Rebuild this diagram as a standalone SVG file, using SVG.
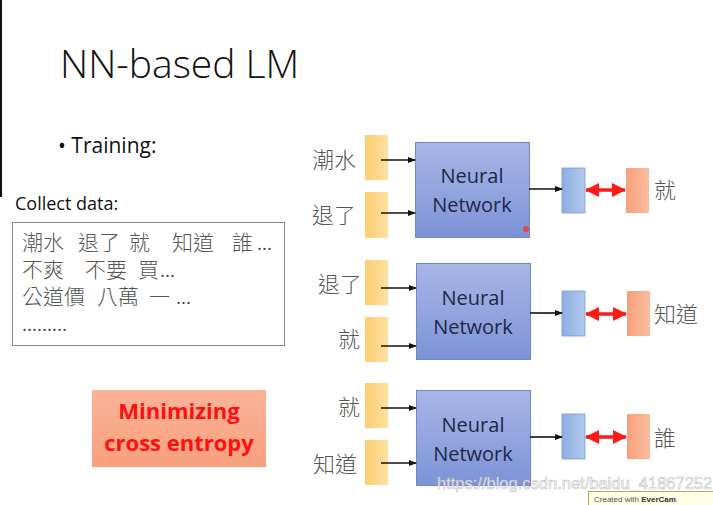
<svg xmlns="http://www.w3.org/2000/svg" width="713" height="505" viewBox="0 0 713 505">
<defs>
<linearGradient id="gY" x1="0" y1="0" x2="1" y2="0"><stop offset="0" stop-color="#fdcd72"/><stop offset="1" stop-color="#fee0a0"/></linearGradient>
<linearGradient id="gNN" x1="0" y1="0" x2="0" y2="1"><stop offset="0" stop-color="#a7b6e6"/><stop offset="1" stop-color="#7d93d6"/></linearGradient>
<linearGradient id="gB" x1="0" y1="0" x2="1" y2="0"><stop offset="0" stop-color="#8eaee0"/><stop offset="1" stop-color="#b0c8ee"/></linearGradient>
<linearGradient id="gO" x1="0" y1="0" x2="1" y2="0"><stop offset="0" stop-color="#f7a07c"/><stop offset="1" stop-color="#fbbd9f"/></linearGradient>
<linearGradient id="gM" x1="0" y1="0" x2="0" y2="1"><stop offset="0" stop-color="#fbb398"/><stop offset="1" stop-color="#f8a07e"/></linearGradient>
<marker id="ab" markerWidth="8" markerHeight="8" refX="7" refY="4" orient="auto" markerUnits="userSpaceOnUse"><path d="M0,1 L8,4 L0,7 Z" fill="#111"/></marker>
<marker id="ar" markerWidth="14" markerHeight="14" refX="13" refY="7" orient="auto-start-reverse" markerUnits="userSpaceOnUse"><path d="M0,0 L14,7 L0,14 Z" fill="#ff1a1a"/></marker>
</defs>
<style>
.yb{fill:url(#gY);}
.nn{fill:url(#gNN);stroke:#6f87cc;stroke-width:1;}
.bb{fill:url(#gB);stroke:#7a9ad6;stroke-width:0.8;}
.ob{fill:url(#gO);}
.lab{font-family:"Noto Sans CJK TC","Noto Sans CJK SC",sans-serif;font-size:22px;font-weight:300;fill:#555;}
.nt{font-family:"Open Sans","Liberation Sans",sans-serif;font-size:20px;fill:#1c2848;text-anchor:middle;}
.ar{stroke:#111;stroke-width:1.6;marker-end:url(#ab);fill:none;}
.rr{stroke:#ff1a1a;stroke-width:3.5;marker-start:url(#ar);marker-end:url(#ar);fill:none;}
.dt{font-family:"Noto Sans CJK TC","Noto Sans CJK SC",sans-serif;font-size:21px;font-weight:300;fill:#555;}
.el{font-family:"Open Sans","Liberation Sans",sans-serif;font-size:19px;fill:#444;}
</style>
<rect width="713" height="505" fill="#fff"/>
<rect x="0" y="0" width="2" height="197" fill="#111"/>
<text x="60" y="78" font-family="Open Sans, Liberation Sans, sans-serif" font-weight="300" font-size="39" fill="#111">NN-based LM</text>
<text x="58" y="153" font-family="Open Sans, Liberation Sans, sans-serif" font-size="21" fill="#111">• Training:</text>
<g id="data">
<text x="15" y="210" font-family="Open Sans, Liberation Sans, sans-serif" font-size="18" fill="#111">Collect data:</text>
<rect x="12.5" y="222.5" width="272" height="123" fill="#fff" stroke="#888" stroke-width="1"/>
<text class="dt" x="22" y="250">潮水</text><text class="dt" x="78" y="250">退了</text><text class="dt" x="129" y="250">就</text><text class="dt" x="172" y="250">知道</text><text class="dt" x="232" y="250">誰</text><text class="el" x="257" y="250">...</text>
<text class="dt" x="22" y="277">不爽</text><text class="dt" x="85" y="277">不要</text><text class="dt" x="138" y="277">買</text><text class="el" x="160" y="277">...</text>
<text class="dt" x="22" y="304">公道價</text><text class="dt" x="97" y="304">八萬</text><text class="dt" x="149" y="304">一</text><text class="el" x="176" y="304">...</text>
<text class="el" x="22" y="331">.........</text>
</g>
<g id="loss">
<rect x="92" y="390" width="174" height="77" fill="url(#gM)"/>
<text x="179" y="419" text-anchor="middle" font-family="Open Sans, Liberation Sans, sans-serif" font-weight="bold" font-size="22" fill="#ff1010">Minimizing</text>
<text x="179" y="451" text-anchor="middle" font-family="Open Sans, Liberation Sans, sans-serif" font-weight="bold" font-size="22" fill="#ff1010">cross entropy</text>
</g>
<!-- Group 1 -->
<g id="in1a"><rect class="yb" x="365" y="135" width="23" height="45"/><text class="lab" x="312" y="168">潮水</text></g>
<g id="in1b"><rect class="yb" x="365" y="192" width="23" height="46"/><text class="lab" x="312" y="223">退了</text></g>
<g id="nn1"><rect class="nn" x="415.5" y="142.5" width="114" height="95"/><text class="nt" x="472" y="183">Neural</text><text class="nt" x="472" y="212">Network</text></g>
<g id="out1"><rect class="bb" x="562" y="168" width="23" height="45"/></g>
<g id="tgt1"><rect class="ob" x="626" y="168" width="23" height="45"/><text class="lab" x="654" y="198">就</text></g>
<!-- Group 2 -->
<g id="in2a"><rect class="yb" x="365" y="260" width="23" height="45"/><text class="lab" x="318" y="292">退了</text></g>
<g id="in2b"><rect class="yb" x="365" y="317" width="23" height="45"/><text class="lab" x="338" y="347">就</text></g>
<g id="nn2"><rect class="nn" x="416.5" y="263.5" width="114" height="96"/><text class="nt" x="473" y="305">Neural</text><text class="nt" x="473" y="334">Network</text></g>
<g id="out2"><rect class="bb" x="562" y="291" width="23" height="45"/></g>
<g id="tgt2"><rect class="ob" x="627" y="291" width="23" height="45"/><text class="lab" x="654" y="322">知道</text></g>
<!-- Group 3 -->
<g id="in3a"><rect class="yb" x="365" y="383" width="23" height="45"/><text class="lab" x="338" y="415">就</text></g>
<g id="in3b"><rect class="yb" x="365" y="440" width="23" height="45"/><text class="lab" x="313" y="472">知道</text></g>
<g id="nn3"><rect class="nn" x="416.5" y="390.5" width="114" height="95"/><text class="nt" x="473" y="432">Neural</text><text class="nt" x="473" y="461">Network</text></g>
<g id="out3"><rect class="bb" x="562" y="414" width="23" height="45"/></g>
<g id="tgt3"><rect class="ob" x="627" y="414" width="23" height="45"/><text class="lab" x="654" y="446">誰</text></g>
<g id="connectors">
<line class="ar" x1="381" y1="160" x2="415" y2="160"/>
<line class="ar" x1="381" y1="213" x2="415" y2="213"/>
<line class="ar" x1="529" y1="189" x2="562" y2="189"/>
<line class="rr" x1="586" y1="190" x2="625" y2="190"/>
<line class="ar" x1="381" y1="288" x2="416" y2="288"/>
<line class="ar" x1="381" y1="346" x2="416" y2="346"/>
<line class="ar" x1="530" y1="313" x2="562" y2="313"/>
<line class="rr" x1="586" y1="314" x2="626" y2="314"/>
<line class="ar" x1="381" y1="408" x2="416" y2="408"/>
<line class="ar" x1="381" y1="463" x2="416" y2="463"/>
<line class="ar" x1="530" y1="437" x2="562" y2="437"/>
<line class="rr" x1="586" y1="437" x2="626" y2="437"/>
</g>
<circle cx="526" cy="229" r="3" fill="#ff3030" opacity="0.8"/>
<text x="437" y="489" font-family="Liberation Sans, sans-serif" font-size="16.5" fill="#fff" stroke="#bbb" stroke-width="0.6" opacity="0.9">https://blog.csdn.net/baidu_41867252</text>
<rect x="588.5" y="491.5" width="126" height="15" fill="#ffffe6" stroke="#b0a860" stroke-width="1"/>
<text x="594" y="502" font-family="Liberation Sans, sans-serif" font-size="8" fill="#555">Created with <tspan font-weight="bold" fill="#333">EverCam</tspan>.</text>
</svg>
